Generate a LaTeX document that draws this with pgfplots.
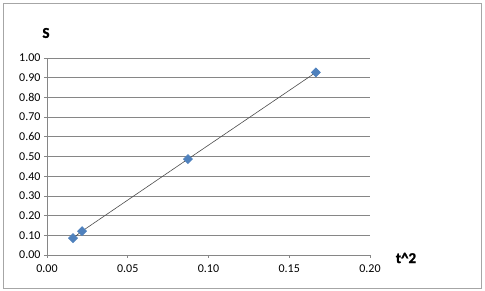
\documentclass[border=0pt]{standalone}
\usepackage{pgfplots}
\pgfplotsset{compat=1.18}
\usepackage{fontspec}
\setmainfont{Carlito}
\newfontfamily\labfont{Carlito Bold}[FakeBold=1.5]
\definecolor{exblue}{HTML}{4F81BD}
\definecolor{exgrid}{HTML}{868686}
\begin{document}
\begin{tikzpicture}[x=1pt,y=1pt]
\path[use as bounding box] (0,0) rectangle (485,291);
\draw[color=gray!70,line width=0.8pt] (3,3) rectangle (481,288);
\begin{axis}[
  at={(47pt,36pt)}, anchor=south west,
  scale only axis, width=323pt, height=197pt,
  xmin=0, xmax=0.2, ymin=0, ymax=1,
  xtick={0,0.05,0.1,0.15,0.2},
  ytick={0,0.1,...,1.0},
  axis x line=bottom, axis y line=left,
  axis line style={-, color=exgrid, line width=0.6pt},
  tick align=outside, major tick length=3pt,
  tick style={color=exgrid, line width=0.6pt},
  ymajorgrids, grid style={color=exgrid, line width=0.6pt},
  every tick label/.append style={font=\fontsize{12}{14}\selectfont},
  /pgf/number format/.cd, fixed, fixed zerofill, precision=2, assume math mode=true,
  /pgfplots/.cd,
  xticklabel style={yshift=-3pt},
  clip=false,
]
\addplot[color=black!70, line width=0.6pt, mark=square*, mark size=3.2pt,
  mark options={fill=exblue, draw=exblue, rotate=45}]
  coordinates {(0.0161,0.086) (0.0217,0.121) (0.0873,0.487) (0.1665,0.927)};
\end{axis}
\node[font=\labfont\fontsize{15}{17}\selectfont] at (46,258) {S};
\node[font=\labfont\fontsize{15}{17}\selectfont] at (406,33) {t\^{}2};
\end{tikzpicture}
\end{document}
